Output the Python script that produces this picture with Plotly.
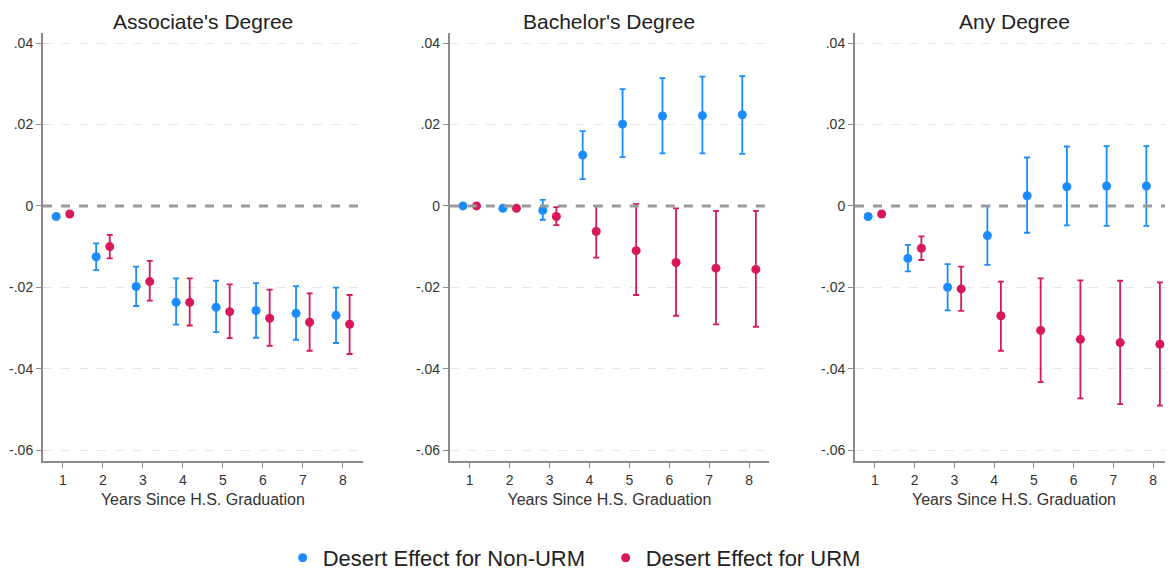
import plotly.graph_objects as go
from plotly.subplots import make_subplots

# datos
years = [1, 2, 3, 4, 5, 6, 7, 8]
panel_titles = ["Associate's Degree", "Bachelor's Degree", "Any Degree"]
ytick_vals = [0.04, 0.02, 0, -0.02, -0.04, -0.06]
ytick_text = [".04", ".02", "0", "-.02", "-.04", "-.06"]

assoc_nonurm = [-0.0026, -0.0125, -0.0198, -0.0237, -0.0249, -0.0257, -0.0264, -0.0269]
assoc_nonurm_lo = [-0.0030, -0.0158, -0.0246, -0.0292, -0.0310, -0.0324, -0.0329, -0.0337]
assoc_nonurm_hi = [-0.0022, -0.0092, -0.0149, -0.0178, -0.0184, -0.0190, -0.0197, -0.0201]
assoc_urm = [-0.0020, -0.0100, -0.0186, -0.0237, -0.0260, -0.0276, -0.0286, -0.0291]
assoc_urm_lo = [-0.0024, -0.0129, -0.0233, -0.0294, -0.0325, -0.0344, -0.0356, -0.0364]
assoc_urm_hi = [-0.0016, -0.0071, -0.0135, -0.0178, -0.0193, -0.0206, -0.0215, -0.0219]

bach_nonurm = [0.0000, -0.0006, -0.0011, 0.0125, 0.0201, 0.0221, 0.0222, 0.0224]
bach_nonurm_lo = [-0.0003, -0.0009, -0.0034, 0.0066, 0.0120, 0.0129, 0.0129, 0.0128]
bach_nonurm_hi = [0.0003, -0.0003, 0.0015, 0.0184, 0.0287, 0.0314, 0.0318, 0.0319]
bach_urm = [0.0000, -0.0006, -0.0026, -0.0063, -0.0110, -0.0139, -0.0153, -0.0156]
bach_urm_lo = [-0.0003, -0.0009, -0.0047, -0.0127, -0.0219, -0.0270, -0.0291, -0.0297]
bach_urm_hi = [0.0003, -0.0003, -0.0003, 0.0000, 0.0005, -0.0006, -0.0012, -0.0012]

any_nonurm = [-0.0026, -0.0129, -0.0200, -0.0073, 0.0025, 0.0047, 0.0049, 0.0049]
any_nonurm_lo = [-0.0030, -0.0161, -0.0257, -0.0145, -0.0066, -0.0048, -0.0049, -0.0049]
any_nonurm_hi = [-0.0022, -0.0096, -0.0143, 0.0000, 0.0119, 0.0146, 0.0147, 0.0147]
any_urm = [-0.0020, -0.0104, -0.0204, -0.0270, -0.0306, -0.0328, -0.0336, -0.0340]
any_urm_lo = [-0.0024, -0.0133, -0.0258, -0.0356, -0.0433, -0.0473, -0.0487, -0.0491]
any_urm_hi = [-0.0016, -0.0075, -0.0149, -0.0186, -0.0178, -0.0183, -0.0184, -0.0188]

paneles = [
    (assoc_nonurm, assoc_nonurm_lo, assoc_nonurm_hi, assoc_urm, assoc_urm_lo, assoc_urm_hi),
    (bach_nonurm, bach_nonurm_lo, bach_nonurm_hi, bach_urm, bach_urm_lo, bach_urm_hi),
    (any_nonurm, any_nonurm_lo, any_nonurm_hi, any_urm, any_urm_lo, any_urm_hi),
]

azul = "#1a8cff"
rojo = "#d8185a"
fuente = "Liberation Sans, Arial, sans-serif"
offset = 0.17

fig = make_subplots(rows=1, cols=3)


def agregar_serie(col, est, lo, hi, color, nombre, dx, leyenda):
    fig.add_trace(go.Scatter(
        x=[t + dx for t in years], y=est, mode="markers", name=nombre,
        marker=dict(color=color, size=9),
        error_y=dict(type="data", symmetric=False,
                     array=[h - e for h, e in zip(hi, est)],
                     arrayminus=[e - l for e, l in zip(est, lo)],
                     color=color, thickness=1.8, width=3),
        showlegend=leyenda), row=1, col=col)


for i, (bn, bnl, bnh, ur, url, urh) in enumerate(paneles):
    col = i + 1
    agregar_serie(col, bn, bnl, bnh, azul, "Desert Effect for Non-URM", -offset, i == 0)
    agregar_serie(col, ur, url, urh, rojo, "Desert Effect for URM", offset, i == 0)
    # linea de referencia en cero
    fig.add_hline(y=0, line=dict(color="#9a9a9a", width=3, dash="dash"), row=1, col=col)

dominios = [[0.0, 0.283], [0.360, 0.6425], [0.7186, 1.0]]
for i in range(3):
    fig.update_xaxes(domain=dominios[i], range=[0.5, 8.5], tickvals=years,
                     showline=True, linecolor="#8c8c8c", linewidth=2,
                     ticks="outside", ticklen=5, tickcolor="#8c8c8c", showgrid=False,
                     zeroline=False, tickfont=dict(size=14, color="#333333"),
                     title=dict(text="Years Since H.S. Graduation", standoff=7,
                                font=dict(size=16, color="#333333")),
                     row=1, col=i + 1)
    fig.update_yaxes(range=[-0.0627, 0.0425], tickvals=ytick_vals, ticktext=ytick_text,
                     showline=True, linecolor="#8c8c8c", linewidth=2,
                     ticks="outside", ticklen=5, tickcolor="#8c8c8c",
                     showgrid=True, gridcolor="#e6e6e6", griddash="dash", gridwidth=1,
                     zeroline=False, tickfont=dict(size=14, color="#333333"),
                     row=1, col=i + 1)
    fig.add_annotation(text=panel_titles[i], x=sum(dominios[i]) / 2, y=1,
                       xref="paper", yref="paper", xanchor="center", yanchor="bottom",
                       yshift=-2, showarrow=False, font=dict(size=21, color="#222222"))

# la pagina deja 8px de margen: la figura ocupa el resto de la ventana
fig.update_layout(width=1165, height=564, plot_bgcolor="white", paper_bgcolor="white",
                  margin=dict(l=35, r=0, t=25, b=111),
                  font=dict(family=fuente),
                  legend=dict(orientation="h", xref="container", yref="container",
                              x=0.513, y=0.025, xanchor="center", yanchor="middle",
                              font=dict(size=22, color="#222222"), itemwidth=30,
                              entrywidth=278))

fig.write_html("out.html")
